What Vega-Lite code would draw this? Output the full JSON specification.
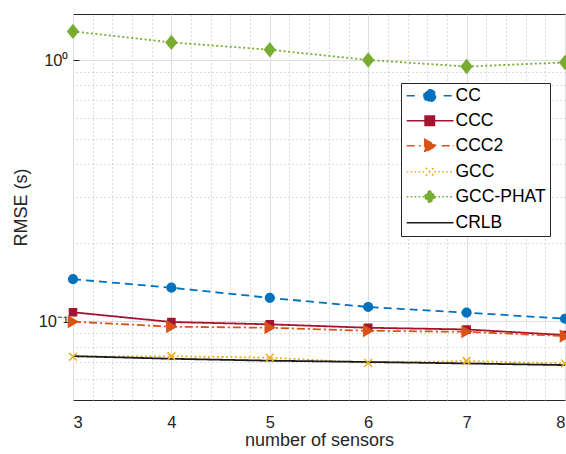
{
  "$schema": "https://vega.github.io/schema/vega-lite/v6.json",
  "width": 492,
  "height": 386,
  "autosize": "none",
  "padding": {"left": 73, "top": 14, "right": 1, "bottom": 54},
  "config": {
    "font": "Liberation Sans",
    "view": {"stroke": "#262626", "strokeWidth": 1},
    "axis": {"labelColor": "#262626", "titleColor": "#262626", "domainColor": "#262626", "tickColor": "#262626", "labelFontSize": 16.5, "titleFontSize": 18, "titleFontWeight": "normal", "labelFont": "Liberation Sans", "titleFont": "Liberation Sans"}
  },
  "data": {"values": [
    {"n": 3, "series": "CC", "rmse": 0.145},
    {"n": 4, "series": "CC", "rmse": 0.1345},
    {"n": 5, "series": "CC", "rmse": 0.123},
    {"n": 6, "series": "CC", "rmse": 0.1135},
    {"n": 7, "series": "CC", "rmse": 0.108},
    {"n": 8, "series": "CC", "rmse": 0.1023},
    {"n": 3, "series": "CCC", "rmse": 0.1083},
    {"n": 4, "series": "CCC", "rmse": 0.0994},
    {"n": 5, "series": "CCC", "rmse": 0.0974},
    {"n": 6, "series": "CCC", "rmse": 0.0945},
    {"n": 7, "series": "CCC", "rmse": 0.0931},
    {"n": 8, "series": "CCC", "rmse": 0.0886},
    {"n": 3, "series": "CCC2", "rmse": 0.0997},
    {"n": 4, "series": "CCC2", "rmse": 0.0954},
    {"n": 5, "series": "CCC2", "rmse": 0.0945},
    {"n": 6, "series": "CCC2", "rmse": 0.092},
    {"n": 7, "series": "CCC2", "rmse": 0.0912},
    {"n": 8, "series": "CCC2", "rmse": 0.0878},
    {"n": 3, "series": "GCC", "rmse": 0.0732},
    {"n": 4, "series": "GCC", "rmse": 0.0735},
    {"n": 5, "series": "GCC", "rmse": 0.0726},
    {"n": 6, "series": "GCC", "rmse": 0.0694},
    {"n": 7, "series": "GCC", "rmse": 0.0705},
    {"n": 8, "series": "GCC", "rmse": 0.069},
    {"n": 3, "series": "GCC-PHAT", "rmse": 1.287},
    {"n": 4, "series": "GCC-PHAT", "rmse": 1.168},
    {"n": 5, "series": "GCC-PHAT", "rmse": 1.095},
    {"n": 6, "series": "GCC-PHAT", "rmse": 1.0},
    {"n": 7, "series": "GCC-PHAT", "rmse": 0.944},
    {"n": 8, "series": "GCC-PHAT", "rmse": 0.979},
    {"n": 3, "series": "CRLB", "rmse": 0.0736},
    {"n": 4, "series": "CRLB", "rmse": 0.0719},
    {"n": 5, "series": "CRLB", "rmse": 0.0707},
    {"n": 6, "series": "CRLB", "rmse": 0.0699},
    {"n": 7, "series": "CRLB", "rmse": 0.069},
    {"n": 8, "series": "CRLB", "rmse": 0.068}
  ]},
  "layer": [
    {
      "mark": {"type": "line", "strokeWidth": 1.8},
      "encoding": {
        "x": {"field": "n", "type": "quantitative", "scale": {"domain": [3, 8], "nice": false, "zero": false},
          "axis": {"values": [3, 4, 5, 6, 7, 8], "grid": true, "gridColor": "#dedede", "gridWidth": 1, "ticks": false, "labelPadding": 14, "title": "number of sensors", "titlePadding": 1, "domain": false}},
        "y": {"field": "rmse", "type": "quantitative", "scale": {"type": "log", "domain": [0.05, 1.5], "nice": false},
          "axis": {"values": [0.1, 1], "labelExpr": "datum.value >= 1 ? '10⁰' : '10⁻¹'", "grid": true, "gridColor": "#dedede", "gridWidth": 1, "tickSize": -6, "labelPadding": 11, "title": "RMSE (s)", "titlePadding": 8, "domain": false}},
        "color": {"field": "series", "type": "nominal",
          "scale": {"domain": ["CC", "CCC", "CCC2", "GCC", "GCC-PHAT", "CRLB"], "range": ["#0072BD", "#A2142F", "#D95319", "#EDB120", "#77AC30", "#1a1a1a"]},
          "legend": {
            "title": null, "orient": "none", "legendX": 328, "legendY": 69,
            "strokeColor": "#262626", "fillColor": "white", "padding": 4,
            "labelFont": "Liberation Sans", "labelFontSize": 17.5, "labelColor": "#000000",
            "symbolSize": 144, "labelOffset": 33, "rowPadding": 6, "symbolStrokeWidth": 1.6,
            "encode": {"symbols": {"update": {
              "shape": {"signal": "datum.value==='CC' ? 'M-1.17,0H0.48M4.98,0H6.63M3.645,0C3.645,0.5385 3.2085,0.975 2.67,0.975C2.1315,0.975 1.695,0.5385 1.695,0C1.695,-0.5385 2.1315,-0.975 2.67,-0.975C3.2085,-0.975 3.645,-0.5385 3.645,0Z' : datum.value==='CCC' ? 'M-1.17,0H6.63M1.89,-0.78H3.45V0.78H1.89Z' : datum.value==='CCC2' ? 'M-1.17,0H0.33M0.855,0H1.155M4.68,0H6.63M1.83,-1.08L3.78,0L1.83,1.08Z' : datum.value==='GCC' ? 'M-1.17,0H-0.9M-0.51,0H-0.24M0.15,0H0.42M0.81,0H1.08M1.47,0H1.74M3.45,0H3.72M4.11,0H4.38M4.77,0H5.04M5.43,0H5.7M6.09,0H6.36M1.995,-0.675L3.345,0.675M1.995,0.675L3.345,-0.675' : datum.value==='GCC-PHAT' ? 'M-1.17,0H-0.9M-0.51,0H-0.24M0.15,0H0.42M0.81,0H1.08M1.47,0H1.74M3.45,0H3.72M4.11,0H4.38M4.77,0H5.04M5.43,0H5.7M6.09,0H6.36M2.67,-1.08L3.63,0L2.67,1.08L1.71,0Z' : 'M-1.17,0H6.63'"},
              "fill": {"scale": "color", "field": "value"},
              "stroke": {"scale": "color", "field": "value"},
              "strokeWidth": {"value": 1.6},
              "strokeDash": {"value": [1, 0]},
              "opacity": {"value": 1}
            }}}
          }},
        "strokeDash": {"field": "series", "type": "nominal",
          "scale": {"domain": ["CC", "CCC", "CCC2", "GCC", "GCC-PHAT", "CRLB"], "range": [[8, 5], [1, 0], [8, 3, 2, 3], [2, 2.5], [2, 2.5], [1, 0]]},
          "legend": null}
      }
    },
    {
      "transform": [{"filter": "datum.series !== 'CRLB'"}],
      "mark": {"type": "point", "filled": true, "opacity": 1, "strokeWidth": 1.5},
      "encoding": {
        "x": {"field": "n", "type": "quantitative",
          "axis": {"orient": "top", "values": [3.2, 3.4, 3.6, 3.8, 4.2, 4.4, 4.6, 4.8, 5.2, 5.4, 5.6, 5.8, 6.2, 6.4, 6.6, 6.8, 7.2, 7.4, 7.6, 7.8], "grid": true, "gridColor": "#b8b8b8", "gridDash": [1, 3], "gridWidth": 1, "ticks": false, "labels": false, "domain": false, "title": null}},
        "y": {"field": "rmse", "type": "quantitative",
          "axis": {"orient": "right", "values": [0.06, 0.07, 0.08, 0.09, 0.2, 0.3, 0.4, 0.5, 0.6, 0.7, 0.8, 0.9], "grid": true, "gridColor": "#b8b8b8", "gridDash": [1, 3], "gridWidth": 1, "ticks": false, "labels": false, "domain": false, "title": null}},
        "color": {"field": "series", "type": "nominal"},
        "stroke": {"field": "series", "type": "nominal",
          "scale": {"domain": ["CC", "CCC", "CCC2", "GCC", "GCC-PHAT"], "range": ["#0072BD", "#A2142F", "#D95319", "#EDB120", "#77AC30"]},
          "legend": null},
        "shape": {"field": "series", "type": "nominal",
          "scale": {"domain": ["CC", "CCC", "CCC2", "GCC", "GCC-PHAT"], "range": ["circle", "square", "triangle-right", "M-1,-1L1,1M-1,1L1,-1", "M0,-1L0.8,0L0,1L-0.8,0Z"]},
          "legend": null},
        "size": {"field": "series", "type": "nominal",
          "scale": {"type": "ordinal", "domain": ["CC", "CCC", "CCC2", "GCC", "GCC-PHAT"], "range": [75, 50, 110, 60, 169]},
          "legend": null}
      }
    }
  ],
  "resolve": {"axis": {"x": "independent", "y": "independent"}}
}
